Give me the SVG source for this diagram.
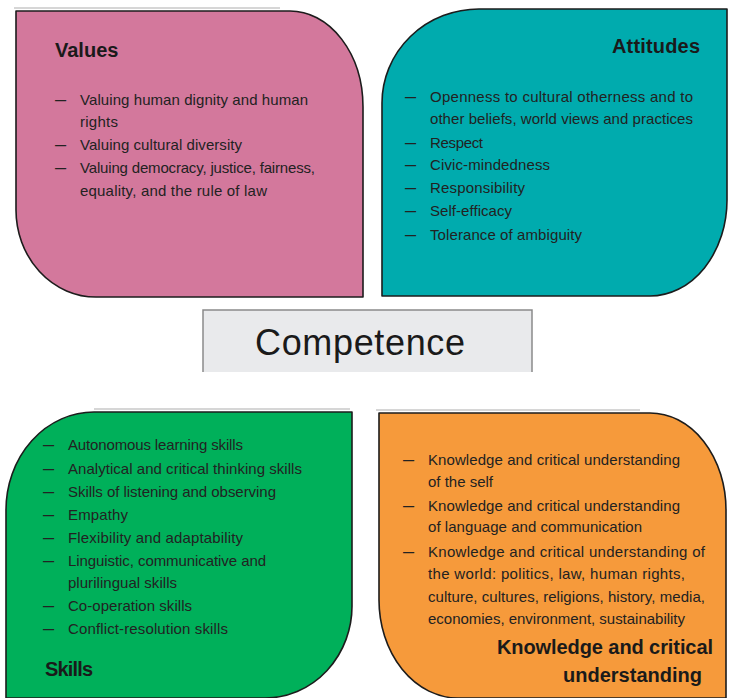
<svg xmlns="http://www.w3.org/2000/svg" width="733" height="698" viewBox="0 0 733 698">
<style>
.shape{stroke:#1c1c1c;stroke-width:1.6;stroke-linejoin:round}
.shadow{stroke:#d6d6d6;stroke-width:2;fill:none}
.t{font-family:"Liberation Sans",Arial,sans-serif;font-size:15px;fill:#222222}
.d{font-family:"Liberation Sans",Arial,sans-serif;font-size:20px;fill:#222222}
.h{font-family:"Liberation Sans",Arial,sans-serif;font-size:20px;font-weight:bold;fill:#1a1a1a}
.c{font-family:"Liberation Sans",Arial,sans-serif;font-size:36px;fill:#1a1a1a}
</style>
<rect width="733" height="698" fill="#ffffff"/>

<g id="values">
<line class="shadow" x1="14" y1="8" x2="280" y2="8"/>
<path class="shape" fill="#d3789c" d="M16,11 H290 A73,96 0 0 1 363,107 V297 H96 A80,87 0 0 1 16,210 Z"/>
<text class="h" x="55" y="57">Values</text>
<text class="d" x="55" y="106">–</text>
<text class="t" x="80" y="105" textLength="228">Valuing human dignity and human</text>
<text class="t" x="80" y="127" textLength="38">rights</text>
<text class="d" x="55" y="151">–</text>
<text class="t" x="80" y="150" textLength="162">Valuing cultural  diversity</text>
<text class="d" x="55" y="174">–</text>
<text class="t" x="80" y="173" textLength="235">Valuing democracy, justice, fairness,</text>
<text class="t" x="80" y="196" textLength="187">equality, and the rule of law</text>
</g>

<g id="attitudes">
<path class="shape" fill="#00abae" d="M479,9 H727 V200 A77,96 0 0 1 650,296 H382 V103 A97,94 0 0 1 479,9 Z"/>
<text class="h" x="612" y="53" textLength="88">Attitudes</text>
<text class="d" x="405" y="103">–</text>
<text class="t" x="430" y="102" textLength="263">Openness to cultural otherness and to</text>
<text class="t" x="430" y="124" textLength="263">other beliefs, world views and practices</text>
<text class="d" x="405" y="149">–</text>
<text class="t" x="430" y="148" textLength="53">Respect</text>
<text class="d" x="405" y="171">–</text>
<text class="t" x="430" y="170" textLength="120">Civic-mindedness</text>
<text class="d" x="405" y="194">–</text>
<text class="t" x="430" y="193" textLength="95">Responsibility</text>
<text class="d" x="405" y="217">–</text>
<text class="t" x="430" y="216" textLength="82">Self-efficacy</text>
<text class="d" x="405" y="241">–</text>
<text class="t" x="430" y="240" textLength="152">Tolerance of ambiguity</text>
</g>

<g id="competence">
<rect x="203" y="310" width="329" height="62" fill="#e9eaec"/>
<path d="M203,372 V310 H532 V372" fill="none" stroke="#8a8a8a" stroke-width="1.5"/>
<text class="c" x="255" y="355" textLength="210">Competence</text>
</g>

<g id="skills">
<line class="shadow" x1="94" y1="409" x2="350" y2="409"/>
<path class="shape" fill="#00b05a" d="M94,412 H352 V605 A87,92 0 0 1 265,698 H6 V510 A88,98 0 0 1 94,412 Z"/>
<text class="d" x="43" y="451">–</text>
<text class="t" x="68" y="450" textLength="175">Autonomous learning skills</text>
<text class="d" x="43" y="475">–</text>
<text class="t" x="68" y="474" textLength="234">Analytical and critical thinking  skills</text>
<text class="d" x="43" y="498">–</text>
<text class="t" x="68" y="497" textLength="208">Skills of listening and observing</text>
<text class="d" x="43" y="521">–</text>
<text class="t" x="68" y="520" textLength="60">Empathy</text>
<text class="d" x="43" y="544">–</text>
<text class="t" x="68" y="543" textLength="175">Flexibility and  adaptability</text>
<text class="d" x="43" y="567">–</text>
<text class="t" x="68" y="566" textLength="198">Linguistic, communicative and</text>
<text class="t" x="68" y="588" textLength="109">plurilingual  skills</text>
<text class="d" x="43" y="612">–</text>
<text class="t" x="68" y="611" textLength="124">Co-operation  skills</text>
<text class="d" x="43" y="635">–</text>
<text class="t" x="68" y="634" textLength="160">Conflict-resolution  skills</text>
<text class="h" x="45" y="676" textLength="48">Skills</text>
</g>

<g id="knowledge">
<line class="shadow" x1="376" y1="410" x2="640" y2="410"/>
<path class="shape" fill="#f69a3b" d="M379,413 H650 A76,97 0 0 1 726,510 V698 H458 A79,98 0 0 1 379,600 Z"/>
<text class="d" x="403" y="466">–</text>
<text class="t" x="428" y="465" textLength="252">Knowledge and critical understanding</text>
<text class="t" x="428" y="487" textLength="65">of the self</text>
<text class="d" x="403" y="512">–</text>
<text class="t" x="428" y="511" textLength="252">Knowledge and critical understanding</text>
<text class="t" x="428" y="532" textLength="214">of language and communication</text>
<text class="d" x="403" y="558">–</text>
<text class="t" x="428" y="557" textLength="277">Knowledge and critical understanding of</text>
<text class="t" x="428" y="579" textLength="257">the world: politics, law, human rights,</text>
<text class="t" x="428" y="602" textLength="277">culture, cultures, religions, history, media,</text>
<text class="t" x="428" y="624" textLength="257">economies, environment, sustainability</text>
<text class="h" x="497" y="654" textLength="216">Knowledge and critical</text>
<text class="h" x="563" y="682" textLength="139">understanding</text>
</g>
</svg>
